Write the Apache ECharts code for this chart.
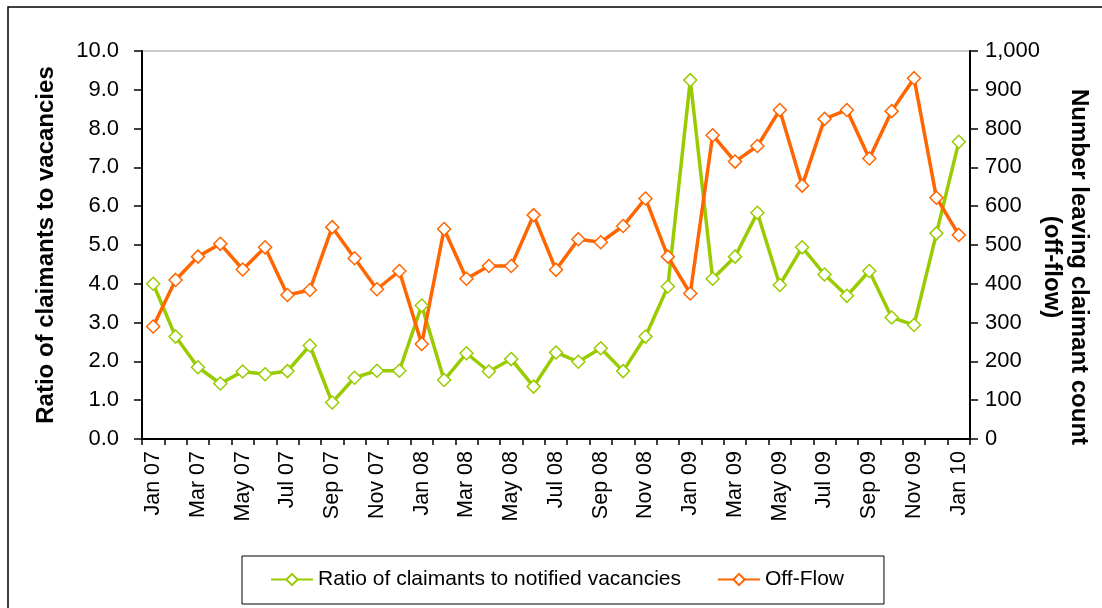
<!DOCTYPE html>
<html><head><meta charset="utf-8">
<script src="https://cdn.jsdelivr.net/npm/echarts@6/dist/echarts.min.js"></script>
<style>html,body{margin:0;padding:0;background:#fff}#c{width:1102px;height:608px}</style>
</head><body><div id="c"></div>
<script>
const categories = ['Jan 07','Feb 07','Mar 07','Apr 07','May 07','Jun 07','Jul 07','Aug 07','Sep 07','Oct 07','Nov 07','Dec 07',
  'Jan 08','Feb 08','Mar 08','Apr 08','May 08','Jun 08','Jul 08','Aug 08','Sep 08','Oct 08','Nov 08','Dec 08',
  'Jan 09','Feb 09','Mar 09','Apr 09','May 09','Jun 09','Jul 09','Aug 09','Sep 09','Oct 09','Nov 09','Dec 09','Jan 10'];
const ratioValues = [4.0,2.64,1.85,1.43,1.74,1.67,1.75,2.41,0.94,1.58,1.76,1.76,
  3.44,1.52,2.21,1.74,2.06,1.35,2.23,1.99,2.34,1.75,2.64,3.93,
  9.25,4.13,4.70,5.83,3.97,4.94,4.24,3.69,4.33,3.13,2.94,5.30,7.66];
const offFlowValues = [290,410,470,503,437,494,371,384,546,466,386,433,
  245,541,413,446,446,577,436,515,507,549,620,470,
  375,783,715,755,848,653,825,848,723,845,930,622,526];
const ratioName = 'Ratio of claimants to notified vacancies';
const offFlowName = 'Off-Flow';
const leftTitle = 'Ratio of claimants to vacancies';
const rightTitle = 'Number leaving claimant count\n(off-flow)';

const FONT = 'Liberation Sans, Arial, sans-serif';
const GREEN = '#99CC00', ORANGE = '#FF6600';
const chart = echarts.init(document.getElementById('c'), null, {renderer:'canvas'});
chart.setOption({
  animation:false,
  textStyle:{fontFamily:FONT},
  graphic:[{type:'rect', shape:{x:8,y:7,width:1200,height:700}, style:{fill:'none', stroke:'#000', lineWidth:1.5}, silent:true, z:-1}],
  grid:{left:142, right:132, top:51, bottom:169, show:true, borderColor:'#999', borderWidth:1, containLabel:false, outerBoundsMode:'none'},
  legend:{
    left:242, top:556, itemWidth:42, itemHeight:14, itemGap:36,
    padding:[13,40,14,28], borderColor:'#000', borderWidth:1,
    textStyle:{fontFamily:FONT, fontSize:21, color:'#000'},
    data:[ratioName, offFlowName]
  },
  xAxis:{
    type:'category', data:categories, boundaryGap:true,
    axisLine:{lineStyle:{color:'#000', width:2}},
    axisTick:{show:true, length:6, interval:0, alignWithLabel:false, lineStyle:{color:'#000', width:1.5}},
    axisLabel:{interval:1, rotate:90, margin:12, fontSize:21.5, color:'#000', fontFamily:FONT},
    splitLine:{show:false}
  },
  yAxis:[{
    type:'value', min:0, max:10, interval:1, position:'left',
    name:leftTitle, nameLocation:'middle', nameGap:84, nameRotate:90, nameMoveOverlap:false,
    nameTextStyle:{fontSize:24, fontWeight:'bold', color:'#000', fontFamily:FONT},
    axisLine:{show:true, lineStyle:{color:'#000', width:2}},
    axisTick:{show:true, length:8, lineStyle:{color:'#000', width:1.5}},
    axisLabel:{margin:23, fontSize:22, color:'#000', fontFamily:FONT, formatter:v=>v.toFixed(1)},
    splitLine:{show:false}
  },{
    type:'value', min:0, max:1000, interval:100, position:'right',
    name:rightTitle, nameLocation:'middle', nameGap:68, nameRotate:-90, nameMoveOverlap:false,
    nameTextStyle:{fontSize:24, fontWeight:'bold', color:'#000', fontFamily:FONT, lineHeight:27, align:'center', padding:[0,0,0,44]},
    axisLine:{show:true, lineStyle:{color:'#000', width:2}},
    axisTick:{show:true, length:8, lineStyle:{color:'#000', width:1.5}},
    axisLabel:{margin:15, fontSize:22, color:'#000', fontFamily:FONT, formatter:v=>v.toLocaleString('en-US')},
    splitLine:{show:false}
  }],
  series:[{
    name:ratioName, type:'line', yAxisIndex:0, data:ratioValues,
    symbol:'diamond', symbolSize:13, showAllSymbol:true,
    lineStyle:{color:GREEN, width:3.5},
    itemStyle:{color:'#fff', borderColor:GREEN, borderWidth:1.5}
  },{
    name:offFlowName, type:'line', yAxisIndex:1, data:offFlowValues,
    symbol:'diamond', symbolSize:13, showAllSymbol:true,
    lineStyle:{color:ORANGE, width:3.5},
    itemStyle:{color:'#fff', borderColor:ORANGE, borderWidth:1.5}
  }]
});
</script></body></html>
